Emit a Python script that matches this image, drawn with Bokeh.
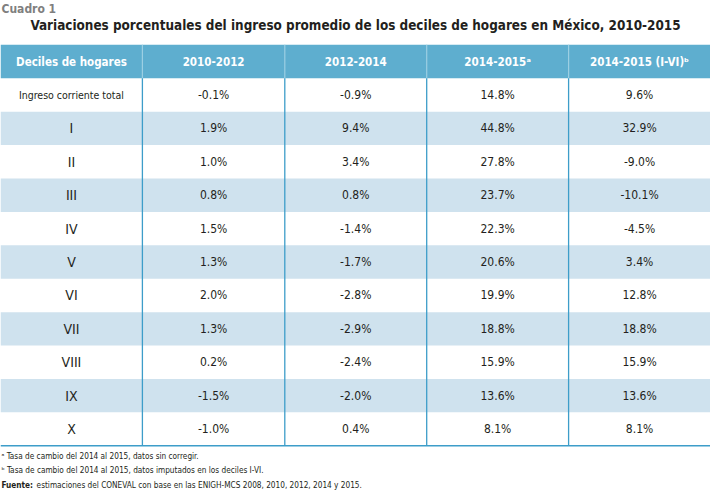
from bokeh.plotting import figure
from bokeh.models import Range1d, ColumnDataSource
from bokeh.core.properties import value
from bokeh.embed import file_html
from bokeh.resources import INLINE

# ---- data ----
filas = ["Ingreso corriente total", "I", "II", "III", "IV", "V", "VI", "VII", "VIII", "IX", "X"]
encabezados = ["Deciles de hogares", "2010-2012", "2012-2014", "2014-2015\u1d43", "2014-2015 (I-VI)\u1d47"]
v_2010_2012 = [-0.1, 1.9, 1.0, 0.8, 1.5, 1.3, 2.0, 1.3, 0.2, -1.5, -1.0]
v_2012_2014 = [-0.9, 9.4, 3.4, 0.8, -1.4, -1.7, -2.8, -2.9, -2.4, -2.0, 0.4]
v_2014_2015 = [14.8, 44.8, 27.8, 23.7, 22.3, 20.6, 19.9, 18.8, 15.9, 13.6, 8.1]
v_2014_2015_ivi = [9.6, 32.9, -9.0, -10.1, -4.5, 3.4, 12.8, 18.8, 15.9, 13.6, 8.1]
titulo = "Variaciones porcentuales del ingreso promedio de los deciles de hogares en México, 2010-2015"
cuadro = "Cuadro 1"
notas = ["\u1d43 Tasa de cambio del 2014 al 2015, datos sin corregir.",
         "\u1d47 Tasa de cambio del 2014 al 2015, datos imputados en los deciles I-VI."]
fuente_label = "Fuente:"
fuente_texto = "estimaciones del CONEVAL con base en las ENIGH-MCS 2008, 2010, 2012, 2014 y 2015."

FONT = "DejaVu Sans Condensed"
HEADER_BG = "#5eaecf"
SHADE = "#cfe2ee"
LINE = "#3d9dc9"
TXT = "#231f20"

W, H = 718, 501
p = figure(width=710, height=493, x_range=Range1d(0, W), y_range=Range1d(H, 0),
           output_backend="svg", toolbar_location=None, min_border=0)
p.axis.visible = False
p.grid.visible = False
p.outline_line_color = None
p.background_fill_color = "white"

col_edges = [0, 143.5, 287.5, 431, 574.5, 718]
col_centers = [(col_edges[i] + col_edges[i + 1]) / 2 for i in range(5)]
head_top, head_bot = 45, 79
row_h = (452.5 - head_bot) / len(filas)
row_top = [head_bot + i * row_h for i in range(len(filas))]

# header background
p.quad(left=[0], right=[W], top=[head_top], bottom=[head_bot], fill_color=HEADER_BG, line_color=None)
# shaded rows
sh = [i for i in range(len(filas)) if i % 2 == 1]
p.quad(left=[0] * len(sh), right=[W] * len(sh), top=[row_top[i] for i in sh],
       bottom=[row_top[i] + row_h for i in sh], fill_color=SHADE, line_color=None)
# header separators (light)
p.segment(x0=col_edges[1:5], x1=col_edges[1:5], y0=[head_top] * 4, y1=[head_bot] * 4,
          line_color="#9ccfe3", line_width=1.2)
# body vertical lines
p.segment(x0=col_edges[1:5], x1=col_edges[1:5], y0=[head_bot] * 4, y1=[452.5] * 4,
          line_color=LINE, line_width=1.3)
# bottom line
p.segment(x0=[0], x1=[W], y0=[452.5], y1=[452.5], line_color=LINE, line_width=1.3)

# header texts
p.text(x=col_centers, y=[(head_top + head_bot) / 2] * 5, text=encabezados,
       text_font=value(FONT), text_font_style="bold", text_font_size="11.5px",
       text_color="white", text_align="center", text_baseline="middle")

# body texts
ys = [t + row_h / 2 for t in row_top]
sizes = ["10.5px"] + ["14px"] * (len(filas) - 1)
src = ColumnDataSource(dict(x=[col_centers[0]] * len(filas), y=ys, t=filas, s=sizes))
p.text(x="x", y="y", text="t", text_font_size="s", source=src, text_font=value(FONT),
       text_color=TXT, text_align="center", text_baseline="middle")
for ci, vals in enumerate([v_2010_2012, v_2012_2014, v_2014_2015, v_2014_2015_ivi]):
    p.text(x=[col_centers[ci + 1]] * len(vals), y=ys, text=[f"{v:.1f}%" for v in vals],
           text_font=value(FONT), text_font_size="12px", text_color=TXT,
           text_align="center", text_baseline="middle")

# titles
p.text(x=[1], y=[9], text=[cuadro], text_font=value(FONT), text_font_style="bold",
       text_font_size="12px", text_color="#7f7f7f", text_baseline="middle")
p.text(x=[W / 2], y=[25.5], text=[titulo], text_font=value(FONT), text_font_style="bold",
       text_font_size="13.4px", text_color=TXT, text_align="center", text_baseline="middle")

# footnotes
p.text(x=[1, 1], y=[463, 477], text=notas, text_font=value(FONT), text_font_size="8.2px",
       text_color=TXT, text_baseline="middle")
p.text(x=[1], y=[492], text=[fuente_label], text_font=value(FONT), text_font_style="bold",
       text_font_size="8.2px", text_color=TXT, text_baseline="middle")
p.text(x=[36.5], y=[492], text=[fuente_texto], text_font=value(FONT), text_font_size="8.2px",
       text_color=TXT, text_baseline="middle")

open("out.html", "w").write(file_html(p, INLINE))
